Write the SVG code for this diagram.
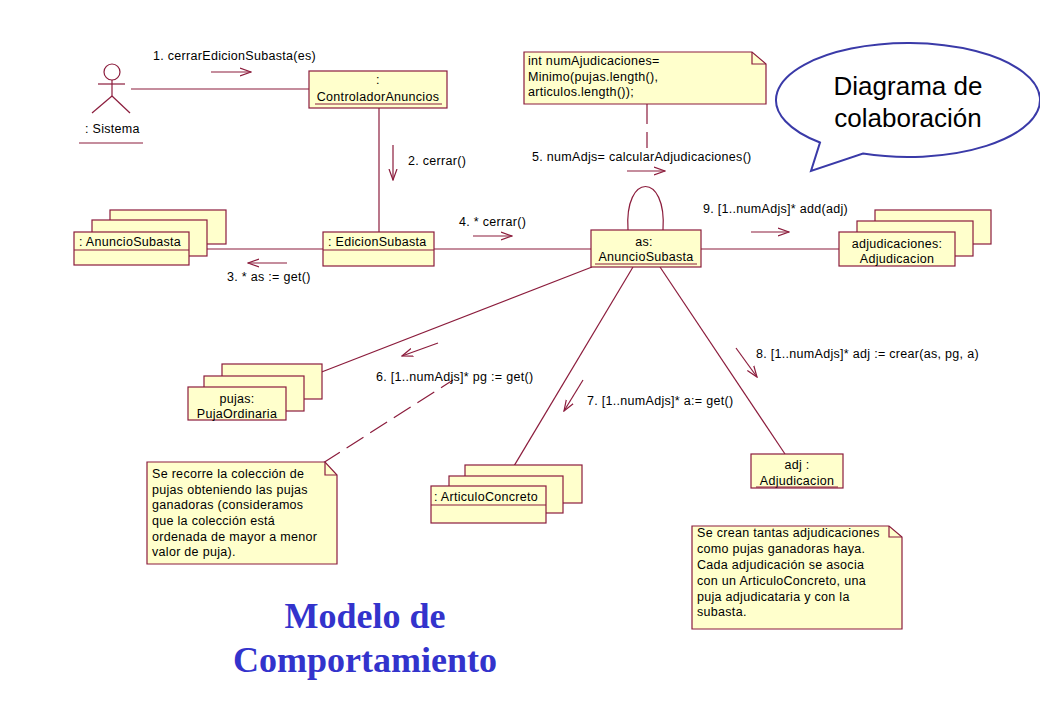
<svg xmlns="http://www.w3.org/2000/svg" width="1040" height="720" viewBox="0 0 1040 720">
<defs>
<style>
.n{fill:#ffffcc;stroke:#8b1c3c;stroke-width:1.2}
.l{stroke:#8b1c3c;stroke-width:1.2;fill:none}
.d{stroke:#8b1c3c;stroke-width:1.2;fill:none;stroke-dasharray:20 8}
.m{stroke:#8b1c3c;stroke-width:1.2;fill:none;marker-end:url(#a)}
.t{font-family:"Liberation Sans",Arial,sans-serif;font-size:12.5px;letter-spacing:0.3px;fill:#000}
.c{text-anchor:middle}
.u{stroke:#8b1c3c;stroke-width:1.2}
.big{font-family:"Liberation Serif","Times New Roman",serif;font-size:36px;font-weight:bold;fill:#3333cc;text-anchor:middle}
</style>
<marker id="a" viewBox="0 0 12 10" refX="11" refY="5" markerWidth="12" markerHeight="10" markerUnits="userSpaceOnUse" orient="auto">
<path d="M0,1 L11,5 L0,9" fill="none" stroke="#8b1c3c" stroke-width="1.2"/>
</marker>
</defs>
<rect width="1040" height="720" fill="#ffffff"/>

<g id="connectors">
<line class="l" x1="131" y1="89" x2="309" y2="89"/>
<line class="l" x1="379" y1="108" x2="379" y2="232"/>
<line class="l" x1="189" y1="249" x2="323" y2="249"/>
<line class="l" x1="434" y1="249" x2="591" y2="249"/>
<path class="l" d="M628,230 C624,172 667,172 663,230"/>
<line class="l" x1="701" y1="249" x2="839" y2="249"/>
<line class="l" x1="592" y1="267" x2="283" y2="387"/>
<line class="l" x1="633" y1="267" x2="502" y2="486"/>
<line class="l" x1="660" y1="267" x2="785" y2="454"/>
<line class="d" x1="647" y1="104" x2="647" y2="148"/>
<line class="d" x1="323" y1="463" x2="453" y2="380"/>

<line class="m" x1="211" y1="72" x2="251" y2="72"/>
<text class="t" x="153" y="60">1. cerrarEdicionSubasta(es)</text>
<line class="m" x1="393" y1="145" x2="393" y2="180"/>
<text class="t" x="408" y="165">2. cerrar()</text>
<line class="m" x1="287" y1="263" x2="248" y2="263"/>
<text class="t" x="227" y="281">3. * as := get()</text>
<line class="m" x1="473" y1="236" x2="512" y2="236"/>
<text class="t" x="459" y="226">4. * cerrar()</text>
<line class="m" x1="627" y1="171" x2="665" y2="171"/>
<text class="t" x="532" y="161">5. numAdjs= calcularAdjudicaciones()</text>
<line class="m" x1="438" y1="343" x2="402" y2="356"/>
<text class="t" x="376" y="381">6. [1..numAdjs]* pg := get()</text>
<line class="m" x1="583" y1="380" x2="564" y2="411"/>
<text class="t" x="587" y="405">7. [1..numAdjs]* a:= get()</text>
<line class="m" x1="736" y1="348" x2="757" y2="377"/>
<text class="t" x="756" y="358">8. [1..numAdjs]* adj := crear(as, pg, a)</text>
<line class="m" x1="751" y1="232" x2="789" y2="232"/>
<text class="t" x="703" y="213">9. [1..numAdjs]* add(adj)</text>
</g>

<g id="sistema">
<circle class="l" cx="112" cy="72" r="8"/>
<line class="l" x1="112" y1="80" x2="112" y2="96"/>
<line class="l" x1="98" y1="84" x2="125" y2="84"/>
<line class="l" x1="112" y1="96" x2="92" y2="113"/>
<line class="l" x1="112" y1="96" x2="130" y2="113"/>
<text class="t" x="85" y="133">: Sistema</text>
<line class="u" x1="79" y1="143" x2="143" y2="143"/>
</g>

<g id="controlador">
<rect class="n" x="309" y="71" width="138" height="37"/>
<text class="t c" x="378" y="84">:</text>
<text class="t c" x="378" y="101">ControladorAnuncios</text>
<line class="u" x1="315" y1="104" x2="442" y2="104"/>
</g>

<g id="edicion">
<rect class="n" x="323" y="232" width="111" height="34"/>
<line class="u" x1="323" y1="250" x2="434" y2="250"/>
<text class="t" x="328" y="246">: EdicionSubasta</text>
</g>

<g id="anuncios">
<rect class="n" x="110" y="210" width="116" height="34"/>
<rect class="n" x="92" y="220" width="115" height="36"/>
<rect class="n" x="74" y="232" width="115" height="33"/>
<line class="u" x1="74" y1="250" x2="189" y2="250"/>
<text class="t" x="79" y="246">: AnuncioSubasta</text>
</g>

<g id="as">
<rect class="n" x="591" y="230" width="110" height="37"/>
<text class="t c" x="644" y="246">as:</text>
<text class="t c" x="646" y="261">AnuncioSubasta</text>
<line class="u" x1="595" y1="264" x2="697" y2="264"/>
</g>

<g id="adjudicaciones">
<rect class="n" x="875" y="210" width="116" height="34"/>
<rect class="n" x="857" y="221" width="116" height="35"/>
<rect class="n" x="839" y="232" width="116" height="34"/>
<text class="t c" x="897" y="248">adjudicaciones:</text>
<text class="t c" x="897" y="263">Adjudicacion</text>
</g>

<g id="pujas">
<rect class="n" x="222" y="364" width="100" height="35"/>
<rect class="n" x="204" y="376" width="100" height="35"/>
<rect class="n" x="188" y="387" width="98" height="33"/>
<text class="t c" x="237" y="403">pujas:</text>
<text class="t c" x="237" y="418">PujaOrdinaria</text>
</g>

<g id="articulos">
<rect class="n" x="465" y="465" width="117" height="38"/>
<rect class="n" x="449" y="476" width="114" height="37"/>
<rect class="n" x="431" y="486" width="115" height="37"/>
<line class="u" x1="431" y1="505" x2="546" y2="505"/>
<text class="t" x="434" y="501">: ArticuloConcreto</text>
</g>

<g id="adj">
<rect class="n" x="751" y="454" width="92" height="34"/>
<text class="t c" x="797" y="469">adj :</text>
<text class="t c" x="797" y="485">Adjudicacion</text>
<line class="u" x1="756" y1="487" x2="838" y2="487"/>
</g>

<g id="nota-calculo">
<path class="n" d="M524,52 L752,52 L766,64 L766,104 L524,104 Z"/>
<path class="l" d="M752,52 L752,64 L766,64"/>
<text class="t" x="528" y="65">int numAjudicaciones=</text>
<text class="t" x="528" y="81">Minimo(pujas.length(),</text>
<text class="t" x="528" y="96">articulos.length());</text>
</g>

<g id="nota-pujas">
<path class="n" d="M147,462 L325,462 L337,475 L337,564 L147,564 Z"/>
<path class="l" d="M325,462 L325,475 L337,475"/>
<text class="t" x="152" y="478">Se recorre la colección de</text>
<text class="t" x="152" y="494">pujas obteniendo las pujas</text>
<text class="t" x="152" y="509">ganadoras (consideramos</text>
<text class="t" x="152" y="525">que la colección está</text>
<text class="t" x="152" y="541">ordenada de mayor a menor</text>
<text class="t" x="152" y="556">valor de puja).</text>
</g>

<g id="nota-adjudicaciones">
<path class="n" d="M692,526 L889,526 L902,537 L902,629 L692,629 Z"/>
<path class="l" d="M889,526 L889,537 L902,537"/>
<text class="t" x="697" y="537">Se crean tantas adjudicaciones</text>
<text class="t" x="697" y="553">como pujas ganadoras haya.</text>
<text class="t" x="697" y="569">Cada adjudicación se asocia</text>
<text class="t" x="697" y="585">con un ArticuloConcreto, una</text>
<text class="t" x="697" y="601">puja adjudicataria y con la</text>
<text class="t" x="697" y="616">subasta.</text>
</g>

<g id="bocadillo">
<path d="M863,153.6 A132,57 0 1 0 820,142.5 L811,171 Z" fill="#ffffff" stroke="#3a3aa8" stroke-width="2"/>
<text x="908" y="95" font-family="Liberation Sans, Arial, sans-serif" font-size="26" text-anchor="middle" fill="#000">Diagrama de</text>
<text x="908" y="127" font-family="Liberation Sans, Arial, sans-serif" font-size="26" text-anchor="middle" fill="#000">colaboración</text>
</g>

<g id="titulo">
<text class="big" x="365" y="628">Modelo de</text>
<text class="big" x="365" y="672">Comportamiento</text>
</g>
</svg>
